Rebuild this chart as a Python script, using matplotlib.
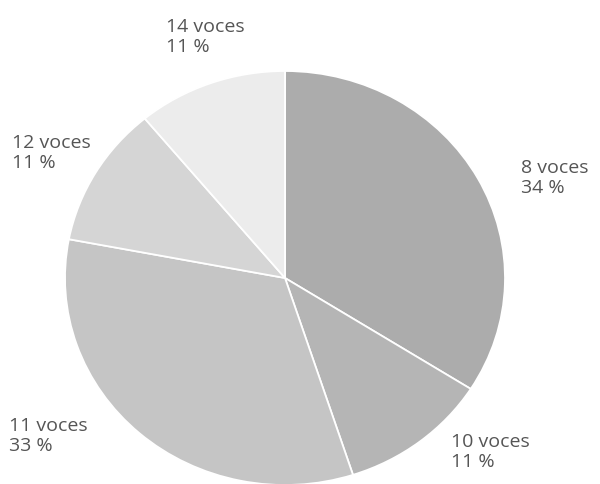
import matplotlib.pyplot as plt

# Data
labels = ["8 voces", "10 voces", "11 voces", "12 voces", "14 voces"]
shares = [34, 11, 33, 11, 11]
colors = ["#acacac", "#b5b5b5", "#c5c5c5", "#d5d5d5", "#ececec"]

# Label anchor points in pixels (left, top) of a 600x485 canvas
label_pos = [(521, 159), (451, 433), (9, 417), (12, 134), (166, 18)]

W, H = 600, 485
fig = plt.figure(figsize=(6, 4.85), dpi=100)
fig.patch.set_facecolor("white")

# Scanned pie is slightly squashed: horizontal radius 220 px, vertical 207 px
cx, cy, rx, ry = 285, 279, 220, 207
ax = fig.add_axes([(cx - rx) / W, (H - cy - ry) / H, 2 * rx / W, 2 * ry / H])
ax.pie(shares, colors=colors, startangle=90, counterclock=False,
       wedgeprops={"edgecolor": "white", "linewidth": 1.3})
ax.set_aspect("auto")
ax.set_xlim(-1, 1)
ax.set_ylim(-1, 1)
ax.axis("off")

for lab, val, (x, y) in zip(labels, shares, label_pos):
    fig.text(x / W, 1 - y / H, f"{lab}\n{val} %", ha="left", va="top",
             fontsize=14, color="#555555", linespacing=1.12,
             family="Open Sans")

fig.savefig("out.png", dpi=100)
